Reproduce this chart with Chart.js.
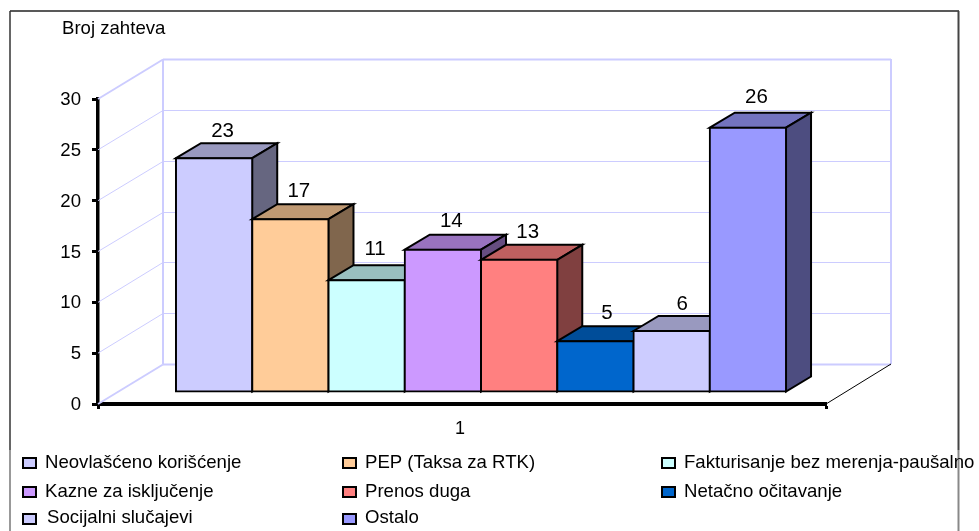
<!DOCTYPE html>
<html>
<head>
<meta charset="utf-8">
<title>Broj zahteva</title>
<script src="https://cdn.jsdelivr.net/npm/chart.js@4"></script>
<style>
    html, body { margin: 0; padding: 0; background: #fff; }
    canvas { display: block; }
</style>
</head>
<body>
<canvas id="myChart" width="979" height="531"></canvas>
<script>
const categories = ['1']
const seriesNames = ['Neovlašćeno korišćenje', 'PEP (Taksa za RTK)', 'Fakturisanje bez merenja-paušalno', 'Kazne za isključenje', 'Prenos duga', 'Netačno očitavanje', 'Socijalni slučajevi', 'Ostalo']
const seriesValues = [23, 17, 11, 14, 13, 5, 6, 26]
const seriesColors = ['#CCCCFF', '#FFCC99', '#CCFFFF', '#CC99FF', '#FF8080', '#0066CC', '#CCCCFF', '#9999FF']
const yTicks = [0, 5, 10, 15, 20, 25, 30]
const yTitle = 'Broj zahteva'

const wall = { dx: 65, dy: 40 }      // depth of the whole box
const gap = { dx: 19, dy: 12 }       // bars stand this far back from the axis
const depth = { dx: 25, dy: 15 }     // depth of one bar
const wallColor = '#CCCCFF'
const font = '"Liberation Sans", Arial, sans-serif'

const legendCols = [22, 342, 661]
const legendRows = [457, 486, 513]
const legendBaselines = [468, 497, 523]

// the value labels do not sit evenly in the original
const labelNudgeX = [0, 0, 0, 0, 0, 3, 2, 0]
const labelNudgeY = [0, -1, -4, -2, -1, -1, 0, -4]

function shade(hex, f) {
    const n = parseInt(hex.slice(1), 16)
    const r = Math.round((n >> 16 & 255) * f)
    const g = Math.round((n >> 8 & 255) * f)
    const b = Math.round((n & 255) * f)
    return 'rgb(' + r + ',' + g + ',' + b + ')'
}

function line(ctx, x1, y1, x2, y2, color, width) {
    ctx.strokeStyle = color
    ctx.lineWidth = width
    ctx.beginPath()
    ctx.moveTo(x1, y1)
    ctx.lineTo(x2, y2)
    ctx.stroke()
}

function face(ctx, pts, color) {
    ctx.fillStyle = color
    ctx.strokeStyle = '#000'
    ctx.lineWidth = 2
    ctx.lineJoin = 'miter'
    ctx.beginPath()
    pts.forEach((p, i) => i ? ctx.lineTo(p[0], p[1]) : ctx.moveTo(p[0], p[1]))
    ctx.closePath()
    ctx.fill()
    ctx.stroke()
}

const box3d = {
    id: 'box3d',
    beforeDraw(chart) {
        const ctx = chart.ctx
        ctx.save()
        line(ctx, 10, 11, 959, 11, '#222', 1.5)
        line(ctx, 10, 11, 10, 450, '#333', 1.5)
        line(ctx, 10, 450, 10, 531, '#777', 1.5)
        line(ctx, 958.5, 11, 958.5, 450, '#444', 2)
        line(ctx, 958.5, 450, 958.5, 531, '#888', 2)

        ctx.fillStyle = '#000'
        ctx.font = '18.6px ' + font
        ctx.textBaseline = 'alphabetic'
        ctx.fillText(yTitle, 62, 34)

        // legend in three columns
        ctx.lineWidth = 2
        seriesNames.forEach((name, i) => {
            const x = legendCols[i % 3]
            const row = Math.floor(i / 3)
            const y = legendRows[row]
            ctx.fillStyle = seriesColors[i]
            ctx.strokeStyle = '#000'
            ctx.fillRect(x + 1, y + 1, 13, 10)
            ctx.strokeRect(x + 1, y + 1, 13, 10)
            ctx.fillStyle = '#000'
            ctx.fillText(name, x + (i == 6 ? 25 : 23), legendBaselines[row])
        })
        ctx.restore()
    },
    beforeDatasetsDraw(chart) {
        const ctx = chart.ctx
        const a = chart.chartArea
        const y = chart.scales.y
        ctx.save()
        const x0 = a.left + wall.dx
        const x1 = a.right + wall.dx
        yTicks.forEach((t, i) => {
            const py = y.getPixelForValue(t)
            const edge = i == 0 || i == yTicks.length - 1
            const snap = Math.round(py - wall.dy) + 0.5
            line(ctx, x0, snap, x1, snap, wallColor, edge ? 2 : 1)
            line(ctx, a.left, py, x0, snap, wallColor, edge ? 2 : 1)
        })
        const top = y.getPixelForValue(30) - wall.dy
        const bot = y.getPixelForValue(0) - wall.dy
        line(ctx, x0, top, x0, bot, wallColor, 2)
        line(ctx, x1, top, x1, bot, wallColor, 2)
        line(ctx, a.right, a.bottom, x1, bot, '#000', 1)

        // front faces come from the library, tops and sides are added around them
        ctx.translate(gap.dx, -gap.dy)
        chart.getSortedVisibleDatasetMetas().forEach(meta => {
            const bar = meta.data[0]
            const p = bar.getProps(['x', 'y', 'base', 'width'], true)
            const l = p.x - p.width / 2
            const r = p.x + p.width / 2
            const color = seriesColors[meta.index]
            face(ctx, [[l, p.y], [l + depth.dx, p.y - depth.dy], [r + depth.dx, p.y - depth.dy], [r, p.y]], shade(color, 0.75))
            face(ctx, [[r, p.y], [r + depth.dx, p.y - depth.dy], [r + depth.dx, p.base - depth.dy], [r, p.base]], shade(color, 0.5))
            bar.draw(ctx)
        })
        ctx.restore()
    },
    beforeDatasetDraw() {
        return false
    },
    afterDatasetsDraw(chart) {
        const ctx = chart.ctx
        ctx.save()
        ctx.fillStyle = '#000'
        ctx.font = '20.5px ' + font
        ctx.textAlign = 'center'
        ctx.textBaseline = 'alphabetic'
        chart.getSortedVisibleDatasetMetas().forEach(meta => {
            const i = meta.index
            const p = meta.data[0].getProps(['x', 'y'], true)
            ctx.fillText(String(seriesValues[i]), p.x + gap.dx + 8.5 + labelNudgeX[i], p.y - gap.dy - depth.dy - 6 + labelNudgeY[i])
        })
        ctx.restore()
    }
}

const datasets = seriesNames.map((name, i) => ({
    label: name,
    data: [seriesValues[i]],
    backgroundColor: seriesColors[i],
    borderColor: '#000',
    borderWidth: 2,
    borderSkipped: false,
    inflateAmount: 1,
    barPercentage: 1,
    categoryPercentage: 0.838
}))

const myChart = new Chart(document.getElementById('myChart'), {
    type: 'bar',
    data: { labels: categories, datasets: datasets },
    plugins: [box3d],
    options: {
        responsive: false,
        animation: false,
        layout: {
            autoPadding: false,
            padding: { left: 10, top: 99, right: 153, bottom: 91 }
        },
        plugins: {
            legend: { display: false },
            tooltip: { enabled: false }
        },
        scales: {
            x: {
                afterFit(scale) { scale.height = 36 },
                border: { color: '#000', width: 4 },
                grid: { drawOnChartArea: false, tickLength: 5, tickWidth: 3, tickColor: '#000' },
                ticks: { color: '#000', font: { family: font, size: 18 }, padding: 9, labelOffset: -2 }
            },
            y: {
                min: 0,
                max: 30,
                afterFit(scale) { scale.width = 88 },
                border: { color: '#000', width: 3.5 },
                grid: { drawOnChartArea: false, tickLength: 6, tickWidth: 3, tickColor: '#000' },
                afterBuildTicks(scale) { scale.ticks = yTicks.map(v => ({ value: v })) },
                ticks: { color: '#000', font: { family: font, size: 18.6 }, padding: 11, labelOffset: 1 }
            }
        }
    }
})
</script>
</body>
</html>
